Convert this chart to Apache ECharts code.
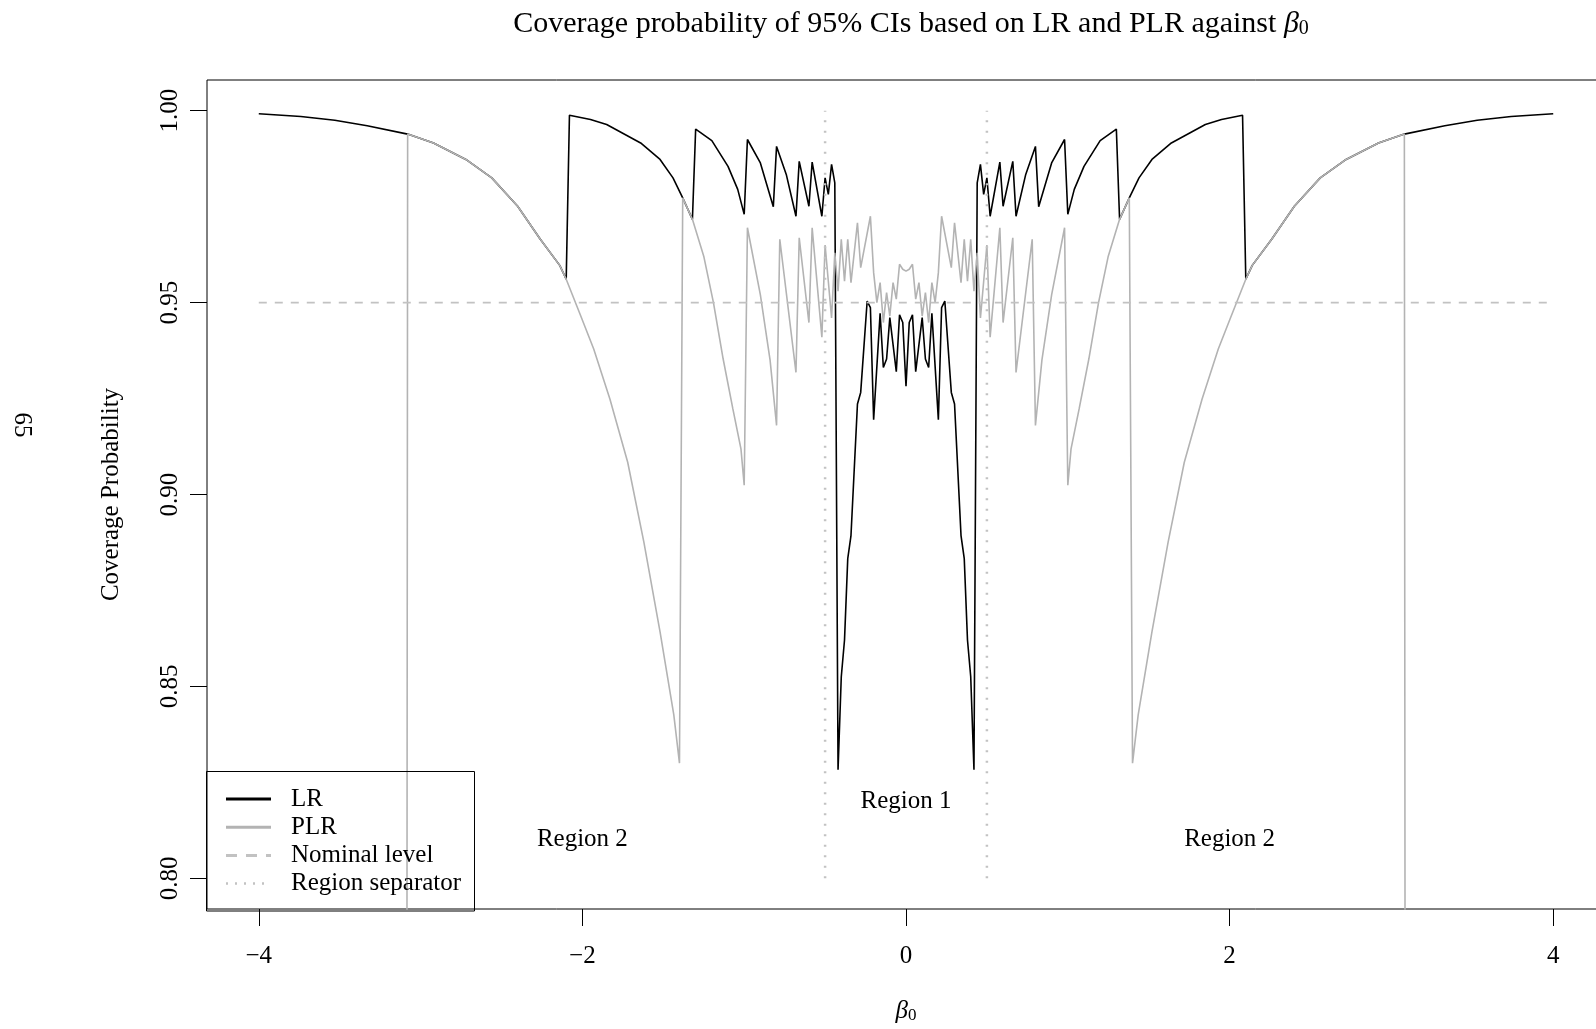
<!DOCTYPE html>
<html lang="en">
<head>
<meta charset="UTF-8">
<title>Coverage probability of 95% CIs</title>
<script src="https://cdn.jsdelivr.net/npm/echarts@6/dist/echarts.min.js"></script>
<style>
  html, body { margin: 0; padding: 0; background: #fff; overflow: hidden; }
  /* the plot box runs past the right edge of the page, as in the scan */
  #main { width: 1620px; height: 1029px; }
</style>
</head>
<body>
<div id="main"></div>
<script>
// LR coverage as [beta0, coverage]
const lrPoints = [
  [-4.00, 0.9992], [-3.74, 0.9985], [-3.53, 0.9975], [-3.33, 0.9961], [-3.08, 0.9939],
  [-2.92, 0.9916], [-2.72, 0.9873], [-2.56, 0.9825], [-2.40, 0.9751], [-2.26, 0.9665],
  [-2.14, 0.9597], [-2.10, 0.9561],
  [-2.08, 0.9988], [-1.95, 0.9977], [-1.85, 0.9964], [-1.64, 0.9916], [-1.52, 0.9873],
  [-1.44, 0.9825], [-1.38, 0.9773], [-1.32, 0.9717],
  [-1.30, 0.9952], [-1.20, 0.9922], [-1.10, 0.9855], [-1.04, 0.9795], [-1.00, 0.9730],
  [-0.98, 0.9925], [-0.90, 0.9864], [-0.82, 0.9750],
  [-0.80, 0.9907], [-0.74, 0.9834], [-0.68, 0.9725],
  [-0.66, 0.9868], [-0.60, 0.9751],
  [-0.58, 0.9866], [-0.52, 0.9725],
  [-0.50, 0.9825], [-0.48, 0.9782], [-0.46, 0.9860], [-0.44, 0.9812],
  [-0.42, 0.8283], [-0.40, 0.8525], [-0.38, 0.8621], [-0.36, 0.8833], [-0.34, 0.8893],
  [-0.30, 0.9236], [-0.28, 0.9266], [-0.24, 0.9504], [-0.22, 0.9487], [-0.20, 0.9195],
  [-0.16, 0.9472], [-0.14, 0.9331], [-0.12, 0.9353], [-0.10, 0.9461], [-0.06, 0.9320],
  [-0.04, 0.9468], [-0.02, 0.9448], [0.00, 0.9282],
  [0.02, 0.9448], [0.04, 0.9468], [0.06, 0.9320], [0.10, 0.9461], [0.12, 0.9353],
  [0.14, 0.9331], [0.16, 0.9472], [0.20, 0.9195], [0.22, 0.9487], [0.24, 0.9504],
  [0.28, 0.9266], [0.30, 0.9236], [0.34, 0.8893], [0.36, 0.8833], [0.38, 0.8621],
  [0.40, 0.8525], [0.42, 0.8283],
  [0.44, 0.9812], [0.46, 0.9860], [0.48, 0.9782], [0.50, 0.9825],
  [0.52, 0.9725], [0.58, 0.9866],
  [0.60, 0.9751], [0.66, 0.9868],
  [0.68, 0.9725], [0.74, 0.9834], [0.80, 0.9907],
  [0.82, 0.9750], [0.90, 0.9864], [0.98, 0.9925],
  [1.00, 0.9730], [1.04, 0.9795], [1.10, 0.9855], [1.20, 0.9922], [1.30, 0.9952],
  [1.32, 0.9717], [1.38, 0.9773], [1.44, 0.9825], [1.52, 0.9873], [1.64, 0.9916],
  [1.85, 0.9964], [1.95, 0.9977], [2.08, 0.9988],
  [2.10, 0.9561], [2.14, 0.9597], [2.26, 0.9665], [2.40, 0.9751], [2.56, 0.9825],
  [2.72, 0.9873], [2.92, 0.9916], [3.08, 0.9939], [3.33, 0.9961], [3.53, 0.9975],
  [3.74, 0.9985], [4.00, 0.9992]
];

// PLR coverage (falls off the bottom of the plot outside |beta0| < 3.1)
const plrPoints = [
  [-4.00, 0], [-3.10, 0],
  [-3.08, 0.9939], [-2.92, 0.9916], [-2.72, 0.9873], [-2.56, 0.9825], [-2.40, 0.9751],
  [-2.26, 0.9665], [-2.14, 0.9597], [-2.10, 0.9561], [-2.01, 0.9465], [-1.93, 0.9379],
  [-1.83, 0.9249], [-1.72, 0.9084], [-1.62, 0.8876], [-1.52, 0.8642], [-1.435, 0.8426],
  [-1.40, 0.8300],
  [-1.38, 0.9773], [-1.32, 0.9717], [-1.25, 0.9621], [-1.19, 0.9500], [-1.13, 0.9353],
  [-1.07, 0.9223], [-1.02, 0.9119], [-1.00, 0.9024],
  [-0.98, 0.9695], [-0.90, 0.9520], [-0.84, 0.9350], [-0.80, 0.9180],
  [-0.78, 0.9665], [-0.68, 0.9318],
  [-0.66, 0.9669], [-0.60, 0.9448],
  [-0.58, 0.9695], [-0.52, 0.9410],
  [-0.50, 0.9650], [-0.48, 0.9555], [-0.46, 0.9460], [-0.44, 0.9630], [-0.42, 0.9530],
  [-0.40, 0.9665], [-0.38, 0.9556], [-0.36, 0.9665], [-0.34, 0.9552], [-0.30, 0.9708],
  [-0.28, 0.9591], [-0.22, 0.9725], [-0.20, 0.9578], [-0.18, 0.9500], [-0.16, 0.9552],
  [-0.14, 0.9448], [-0.12, 0.9526], [-0.10, 0.9465], [-0.08, 0.9552], [-0.06, 0.9509],
  [-0.04, 0.9600], [-0.02, 0.9587], [0.00, 0.9582],
  [0.02, 0.9587], [0.04, 0.9600], [0.06, 0.9509], [0.08, 0.9552], [0.10, 0.9465],
  [0.12, 0.9526], [0.14, 0.9448], [0.16, 0.9552], [0.18, 0.9500], [0.20, 0.9578],
  [0.22, 0.9725], [0.28, 0.9591], [0.30, 0.9708], [0.34, 0.9552], [0.36, 0.9665],
  [0.38, 0.9556], [0.40, 0.9665], [0.42, 0.9530], [0.44, 0.9630], [0.46, 0.9460],
  [0.48, 0.9555], [0.50, 0.9650],
  [0.52, 0.9410], [0.58, 0.9695],
  [0.60, 0.9448], [0.66, 0.9669],
  [0.68, 0.9318], [0.78, 0.9665],
  [0.80, 0.9180], [0.84, 0.9350], [0.90, 0.9520], [0.98, 0.9695],
  [1.00, 0.9024], [1.02, 0.9119], [1.07, 0.9223], [1.13, 0.9353], [1.19, 0.9500],
  [1.25, 0.9621], [1.32, 0.9717], [1.38, 0.9773],
  [1.40, 0.8300], [1.435, 0.8426], [1.52, 0.8642], [1.62, 0.8876], [1.72, 0.9084],
  [1.83, 0.9249], [1.93, 0.9379], [2.01, 0.9465], [2.10, 0.9561], [2.14, 0.9597],
  [2.26, 0.9665], [2.40, 0.9751], [2.56, 0.9825], [2.72, 0.9873], [2.92, 0.9916],
  [3.08, 0.9939],
  [3.10, 0], [4.00, 0]
];

const nominalLevel = 0.95;
const nominalFrom = -4, nominalTo = 4;
const separatorX = [-0.5, 0.5];
const separatorFrom = 0.80, separatorTo = 1.00;

const regionNames = ['Region 2', 'Region 1', 'Region 2'];
const regionX = [-2, 0, 2];
const regionY = [0.81, 0.82, 0.81];

const xTicks = [-4, -2, 0, 2, 4];
const yTicks = [0.80, 0.85, 0.90, 0.95, 1.00];

const legendNames = ['LR', 'PLR', 'Nominal level', 'Region separator'];

const FONT = 'Liberation Serif';
const PLR_GREY = '#b3b3b3';
const REF_GREY = '#c2c2c2';

let myChart = echarts.init(document.getElementById('main'), null, { renderer: 'canvas' });

// legend drawn by hand, R style box with line samples
const legendSamples = [
  { color: '#000', width: 3, dash: null },
  { color: PLR_GREY, width: 3, dash: null },
  { color: REF_GREY, width: 3, dash: [11, 9] },
  { color: REF_GREY, width: 2.5, dash: [2, 7] }
];
let legendGraphics = [{
  type: 'rect',
  shape: { x: 206.5, y: 771.5, width: 268, height: 139.5 },
  style: { fill: 'none', stroke: '#000', lineWidth: 1 },
  z: 10
}];
legendNames.forEach(function (name, i) {
  let y = 799 + i * 28.2;
  let s = legendSamples[i];
  legendGraphics.push({
    type: 'line',
    shape: { x1: 226, y1: y, x2: 271, y2: y },
    style: { stroke: s.color, lineWidth: s.width, lineDash: s.dash },
    z: 10
  });
  legendGraphics.push({
    type: 'text',
    x: 291, y: y,
    style: { text: name, font: '25px "' + FONT + '"', fill: '#000', verticalAlign: 'middle' },
    z: 10
  });
});
// page number of the scanned page
legendGraphics.push({
  type: 'text',
  x: 22, y: 425,
  rotation: -Math.PI / 2,
  style: { text: '65', font: '25px "' + FONT + '"', fill: '#000', align: 'center', verticalAlign: 'middle' }
});

let minus = function (v) { return String(v).replace('-', '\u2212'); };

let option = {
  animation: false,
  backgroundColor: '#fff',
  textStyle: { fontFamily: FONT },
  title: {
    text: 'Coverage probability of 95% CIs based on LR and PLR against {b|\u03b2}{s|0}',
    left: 906,
    textAlign: 'center',
    top: 4,
    textStyle: {
      fontFamily: FONT, fontSize: 30, fontWeight: 'normal', color: '#000',
      rich: {
        b: { fontFamily: FONT, fontSize: 30, fontStyle: 'italic', color: '#000' },
        s: { fontFamily: FONT, fontSize: 20, color: '#000', verticalAlign: 'bottom', lineHeight: 14 }
      }
    }
  },
  grid: {
    left: 207, top: 80, width: 1398, height: 831,
    show: true, borderColor: '#000', borderWidth: 1, backgroundColor: 'transparent'
  },
  xAxis: {
    type: 'value',
    min: -4.32, max: 4.32,
    name: '{b|\u03b2}{s|0}',
    nameLocation: 'middle',
    nameGap: 90,
    nameTextStyle: {
      rich: {
        b: { fontFamily: FONT, fontSize: 25, fontStyle: 'italic', color: '#000' },
        s: { fontFamily: FONT, fontSize: 17, color: '#000', verticalAlign: 'bottom', lineHeight: 12 }
      }
    },
    axisLine: { show: false, onZero: false },
    splitLine: { show: false },
    axisTick: { show: true, length: 17, customValues: xTicks, lineStyle: { color: '#000', width: 1 } },
    axisLabel: {
      customValues: xTicks, margin: 35, color: '#000', fontSize: 25, fontFamily: FONT,
      formatter: minus
    }
  },
  yAxis: {
    type: 'value',
    min: 0.792, max: 1.008,
    name: 'Coverage Probability',
    nameLocation: 'middle',
    nameGap: 83,
    nameTextStyle: { fontFamily: FONT, fontSize: 25, color: '#000' },
    axisLine: { show: false, onZero: false },
    splitLine: { show: false },
    axisTick: { show: true, length: 17, customValues: yTicks, lineStyle: { color: '#000', width: 1 } },
    axisLabel: {
      customValues: yTicks, rotate: 90, margin: 24, color: '#000', fontSize: 25, fontFamily: FONT,
      formatter: function (v) { return v.toFixed(2); }
    }
  },
  graphic: legendGraphics,
  series: [
    {
      name: 'LR', type: 'line', data: lrPoints, symbol: 'none',
      lineStyle: { color: '#000', width: 1.6 }, z: 2
    },
    {
      name: 'PLR', type: 'line', data: plrPoints, symbol: 'none',
      lineStyle: { color: PLR_GREY, width: 1.6 }, z: 3
    },
    {
      name: 'Nominal level', type: 'line', symbol: 'none',
      data: [[nominalFrom, nominalLevel], [nominalTo, nominalLevel]],
      lineStyle: { color: REF_GREY, width: 1.7, type: [8, 8] }, z: 4
    },
    {
      name: 'Region separator', type: 'line', symbol: 'none',
      data: [[separatorX[0], separatorFrom], [separatorX[0], separatorTo]],
      lineStyle: { color: REF_GREY, width: 2.5, type: [2, 8.5] }, z: 4
    },
    {
      name: 'Region separator', type: 'line', symbol: 'none',
      data: [[separatorX[1], separatorFrom], [separatorX[1], separatorTo]],
      lineStyle: { color: REF_GREY, width: 2.5, type: [2, 8.5] }, z: 4
    },
    {
      name: 'regions', type: 'scatter', symbolSize: 0,
      itemStyle: { opacity: 1 },
      data: regionNames.map(function (n, i) { return { name: n, value: [regionX[i], regionY[i]] }; }),
      label: {
        show: true, position: 'inside', formatter: '{b}', opacity: 1,
        color: '#000', fontSize: 25, fontFamily: FONT
      },
      z: 5
    }
  ]
};

myChart.setOption(option);
</script>
</body>
</html>
